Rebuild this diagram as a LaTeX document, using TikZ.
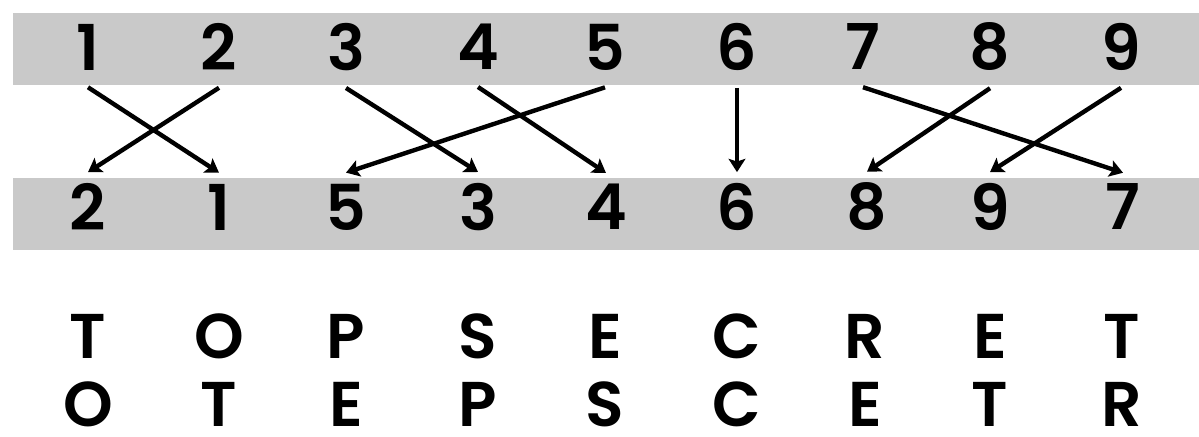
\documentclass[tikz,border=0pt]{standalone}
\usepackage{fontspec}
\setmainfont{Poppins}[BoldFont={Poppins SemiBold}]
\usetikzlibrary{arrows.meta}
\begin{document}
\begin{tikzpicture}[x=0.02cm,y=-0.02cm,
  band/.style={fill=black!21},
  topnum/.style={font=\fontsize{36}{36}\selectfont\bfseries,inner xsep=0pt,inner ysep=9.6pt},
  botnum/.style={font=\fontsize{36}{36}\selectfont\bfseries,inner xsep=0pt,inner ysep=6.2pt},
  letter/.style={font=\fontsize{36}{36}\selectfont\bfseries,inner sep=0pt},
  swap/.style={line width=2.5pt,-{Stealth[length=7.5pt,width=9.5pt,inset=1.5pt]}}]
  \useasboundingbox (0,0) rectangle (1199,436);
  \fill[band] (13,13) rectangle (1199,85);
  \fill[band] (13,178) rectangle (1199,250);
  % key, top row
  \node[topnum] (a1) at (88,47) {1};
  \node[topnum] (a2) at (219,47) {2};
  \node[topnum] (a3) at (346,47) {3};
  \node[topnum] (a4) at (478,47) {4};
  \node[topnum] (a5) at (605,47) {5};
  \node[topnum] (a6) at (737,47) {6};
  \node[topnum] (a7) at (863,47) {7};
  \node[topnum] (a8) at (990,47) {8};
  \node[topnum] (a9) at (1121,47) {9};
  % key, bottom row
  \node[botnum] (z2) at (88,207) {2};
  \node[botnum] (z1) at (219,207) {1};
  \node[botnum] (z5) at (346,207) {5};
  \node[botnum] (z3) at (478,207) {3};
  \node[botnum] (z4) at (606,207) {4};
  \node[botnum] (z6) at (737,207) {6};
  \node[botnum] (z8) at (867,207) {8};
  \node[botnum] (z9) at (990,207) {9};
  \node[botnum] (z7) at (1123,207) {7};
  \draw[swap] (a1.south) -- (z1.north);
  \draw[swap] (a2.south) -- (z2.north);
  \draw[swap] (a3.south) -- (z3.north);
  \draw[swap] (a4.south) -- (z4.north);
  \draw[swap] (a5.south) -- (z5.north);
  \draw[swap] (a6.south) -- (z6.north);
  \draw[swap] (a7.south) -- (z7.north);
  \draw[swap] (a8.south) -- (z8.north);
  \draw[swap] (a9.south) -- (z9.north);
  % plain and cipher text
  \node[letter] (p1) at (88,336) {T};
  \node[letter] (p2) at (219,336) {O};
  \node[letter] (p3) at (346,336) {P};
  \node[letter] (p4) at (478,336) {S};
  \node[letter] (p5) at (605,336) {E};
  \node[letter] (p6) at (737,336) {C};
  \node[letter] (p7) at (865,336) {R};
  \node[letter] (p8) at (990,336) {E};
  \node[letter] (p9) at (1122,336) {T};
  \node[letter] (c1) at (88,404) {O};
  \node[letter] (c2) at (219,404) {T};
  \node[letter] (c3) at (346,404) {E};
  \node[letter] (c4) at (478,404) {P};
  \node[letter] (c5) at (605,404) {S};
  \node[letter] (c6) at (737,404) {C};
  \node[letter] (c7) at (865,404) {E};
  \node[letter] (c8) at (990,404) {T};
  \node[letter] (c9) at (1122,404) {R};
\end{tikzpicture}
\end{document}
